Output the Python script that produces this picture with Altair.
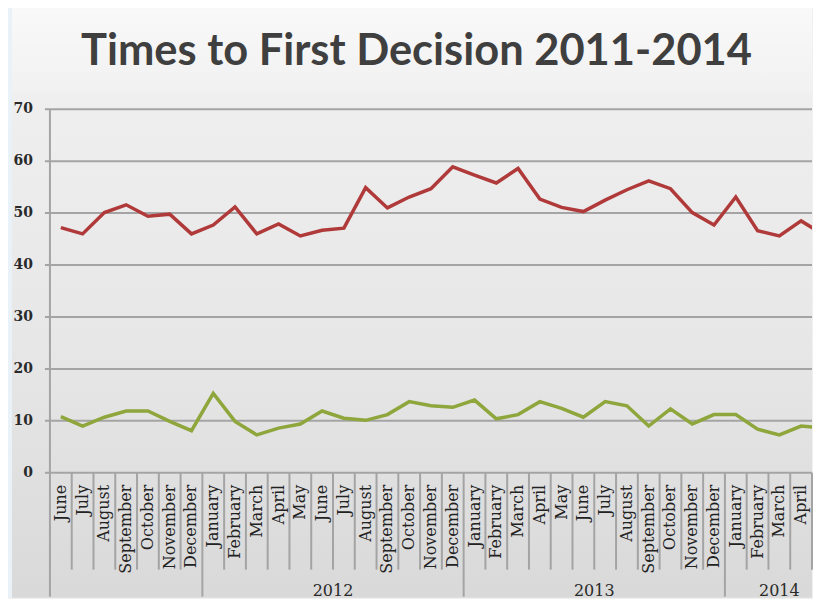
import altair as alt
import pandas as pd

TITLE = "Times to First Decision 2011-2014"

months = ["June", "July", "August", "September", "October", "November", "December",
          "January", "February", "March", "April", "May", "June", "July", "August",
          "September", "October", "November", "December",
          "January", "February", "March", "April", "May", "June", "July", "August",
          "September", "October", "November", "December",
          "January", "February", "March", "April", "May"]

series_names = ["Series 1", "Series 2"]
red_values = [47.2, 46.0, 50.1, 51.6, 49.4, 49.8, 46.0, 47.7, 51.2, 46.0, 47.9, 45.6,
              46.7, 47.1, 54.9, 51.0, 53.1, 54.7, 58.9, 57.3, 55.8, 58.6, 52.7, 51.1,
              50.3, 52.5, 54.5, 56.2, 54.7, 50.1, 47.7, 53.1, 46.6, 45.6, 48.5, 45.9]
green_values = [10.8, 9.0, 10.7, 11.9, 11.9, 9.9, 8.1, 15.3, 9.9, 7.3, 8.6, 9.4,
                11.9, 10.5, 10.1, 11.2, 13.7, 12.9, 12.6, 14.0, 10.4, 11.2, 13.7, 12.4,
                10.7, 13.7, 12.9, 9.0, 12.3, 9.4, 11.2, 11.2, 8.4, 7.3, 9.0, 8.6]
series_colors = ["#b03a3a", "#8ea63c"]

years = ["2012", "2013", "2014"]
year_first = [7, 19, 31]
year_end = [19, 31, 36]

y_ticks = [0, 10, 20, 30, 40, 50, 60, 70]

W, H = 763, 364
X_VISIBLE = 35  # the picture is cut off partway through the last month
xscale = alt.Scale(domain=[0, X_VISIBLE], nice=False, zero=False)
yscale = alt.Scale(domain=[0, 70], nice=False)

n = len(months)
df = pd.DataFrame({
    "pos": [i + 0.5 for i in range(n)] * 2,
    "value": red_values + green_values,
    "series": [series_names[0]] * n + [series_names[1]] * n,
})

GRAY = "#a4a4a4"
LABEL = "#222222"
one = alt.Data(values=[{"t": TITLE}])

bg_blue = alt.Chart(one).mark_rect(fill="#e9f1f9").encode(
    x=alt.value(-42), x2=alt.value(-38), y=alt.value(-101), y2=alt.value(489))

top_grad = alt.LinearGradient(gradient="linear", x1=0, x2=0, y1=0, y2=1,
                              stops=[alt.GradientStop(color="#f9f9f9", offset=0),
                                     alt.GradientStop(color="#f1f1f1", offset=1)])
panel_top = alt.Chart(one).mark_rect(fill=top_grad).encode(
    x=alt.value(-38), x2=alt.value(W), y=alt.value(-101), y2=alt.value(-16))

chart_grad = alt.LinearGradient(gradient="linear", x1=0, x2=0, y1=0, y2=1,
                                stops=[alt.GradientStop(color="#efefef", offset=0),
                                       alt.GradientStop(color="#e7e7e7", offset=0.5),
                                       alt.GradientStop(color="#d9d9d9", offset=1)])
panel_chart = alt.Chart(one).mark_rect(fill=chart_grad).encode(
    x=alt.value(-38), x2=alt.value(W), y=alt.value(-16), y2=alt.value(489))

title = alt.Chart(one).mark_text(
    font="Lato", fontSize=43.5, fontWeight="bold", color="#3f3f3f",
    align="center", baseline="alphabetic"
).encode(x=alt.value(367), y=alt.value(-44), text="t:N")

# horizontal gridlines (with their small ticks left of the axis)
grid_df = pd.DataFrame({"v": y_ticks})
gridlines = alt.Chart(grid_df).mark_rule(color=GRAY, strokeWidth=2).encode(
    y=alt.Y("v:Q", scale=yscale, axis=None),
    x=alt.value(-5), x2=alt.value(W))

y_labels = alt.Chart(grid_df).mark_text(
    font="DejaVu Serif", fontSize=14, fontWeight="bold", color="#2a2a2a",
    align="right", baseline="middle"
).encode(y=alt.Y("v:Q", scale=yscale, axis=None), x=alt.value(-17), text="v:Q")

# vertical axis line
y_domain = alt.Chart(one).mark_rule(color=GRAY, strokeWidth=2).encode(
    x=alt.value(0), y=alt.value(0), y2=alt.value(488))

month_bounds = pd.DataFrame({"b": [b for b in range(1, X_VISIBLE + 1) if b not in year_first]})
month_seps = alt.Chart(month_bounds).mark_rule(color=GRAY, strokeWidth=2).encode(
    x=alt.X("b:Q", scale=xscale, axis=None),
    y=alt.value(H), y2=alt.value(461))

year_bounds = pd.DataFrame({"b": year_first})
year_seps = alt.Chart(year_bounds).mark_rule(color=GRAY, strokeWidth=2).encode(
    x=alt.X("b:Q", scale=xscale, axis=None),
    y=alt.value(H), y2=alt.value(488))

month_df = pd.DataFrame({"month": months, "pos": [i + 0.5 for i in range(n)]})
month_df = month_df[month_df["pos"] < X_VISIBLE]
month_labels = alt.Chart(month_df).mark_text(
    font="DejaVu Serif", fontSize=16, color=LABEL, angle=270,
    align="right", baseline="middle"
).encode(x=alt.X("pos:Q", scale=xscale, axis=None), y=alt.value(H + 12),
         text="month:N")

year_df = pd.DataFrame({"year": years,
                        "c": [(a + b) / 2 for a, b in zip(year_first, year_end)]})
year_labels = alt.Chart(year_df).mark_text(
    font="DejaVu Serif", fontSize=16, color="#2a2a2a", baseline="middle"
).encode(x=alt.X("c:Q", scale=xscale, axis=None), y=alt.value(482), text="year:N")

lines = alt.Chart(df).mark_line(strokeWidth=3.5, clip=True).encode(
    x=alt.X("pos:Q", scale=xscale, axis=None),
    y=alt.Y("value:Q", scale=yscale, axis=None),
    color=alt.Color("series:N", scale=alt.Scale(domain=series_names, range=series_colors),
                    legend=None),
)

chart = alt.layer(
    bg_blue, panel_top, panel_chart, title, gridlines, y_labels, y_domain,
    month_seps, year_seps, month_labels, year_labels, lines
).properties(
    width=W, height=H, padding=0, background="#f0f0f0"
).configure_view(stroke=None)

chart.save("out.html", embed_options={"renderer": "svg", "actions": False})
